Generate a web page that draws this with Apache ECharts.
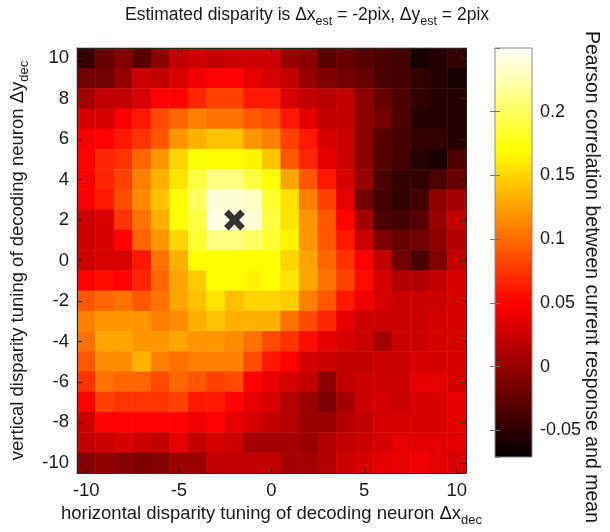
<!DOCTYPE html>
<html>
<head>
<meta charset="utf-8">
<script src="https://cdn.jsdelivr.net/npm/echarts@6/dist/echarts.min.js"></script>
<style>
  html, body { margin: 0; padding: 0; background: #fff; }
  #container { width: 610px; height: 532px; }
</style>
</head>
<body>
<div id="container"></div>
<script>
// axes (decoding neuron tuning, pix)
var xVals = [-10, -9, -8, -7, -6, -5, -4, -3, -2, -1, 0, 1, 2, 3, 4, 5, 6, 7, 8, 9, 10];
var yVals = [-10, -9, -8, -7, -6, -5, -4, -3, -2, -1, 0, 1, 2, 3, 4, 5, 6, 7, 8, 9, 10];

// estimated disparity (the cross)
var estX = -2;
var estY = 2;

// colour range of the colorbar
var cbarMin = -0.071;
var cbarMax = 0.25;
var cbarTicks = [-0.05, 0, 0.05, 0.1, 0.15, 0.2];

// matlab "hot"
var hotColors = ['#000000', '#550000', '#aa0000', '#ff0000', '#ff5500', '#ffaa00', '#ffff00', '#ffff80', '#ffffff'];

// pearson correlation, one row per dy, top row is dy = 10, columns dx = -10..10
var corrRows = [
    [-0.045, -0.023, -0.011, -0.030, -0.005, 0.020, 0.025, 0.020, 0.025, 0.025, 0.025, 0.001, -0.005, -0.030, -0.023, -0.030, -0.035, -0.040, -0.060, -0.053, -0.047], // 10
    [-0.017, -0.017, 0.000, 0.025, 0.020, 0.030, 0.043, 0.049, 0.049, 0.037, 0.030, 0.020, 0.000, -0.011, -0.017, -0.023, -0.035, -0.040, -0.047, -0.053, -0.060], // 9
    [0.007, 0.020, 0.020, 0.030, 0.049, 0.050, 0.067, 0.080, 0.080, 0.060, 0.060, 0.030, 0.020, 0.015, 0.020, -0.005, -0.023, -0.035, -0.047, -0.053, -0.053], // 8
    [0.030, 0.030, 0.045, 0.060, 0.085, 0.097, 0.110, 0.103, 0.103, 0.090, 0.085, 0.060, 0.037, 0.020, 0.020, -0.005, -0.017, -0.035, -0.053, -0.053, -0.053], // 7
    [0.045, 0.050, 0.060, 0.073, 0.090, 0.120, 0.133, 0.140, 0.140, 0.120, 0.110, 0.080, 0.060, 0.030, 0.025, -0.005, -0.030, -0.040, -0.047, -0.047, -0.053], // 6
    [0.049, 0.067, 0.073, 0.097, 0.120, 0.150, 0.170, 0.170, 0.170, 0.165, 0.140, 0.090, 0.067, 0.037, 0.025, -0.005, -0.030, -0.040, -0.053, -0.060, -0.035], // 5
    [0.049, 0.067, 0.080, 0.110, 0.133, 0.157, 0.190, 0.210, 0.210, 0.190, 0.170, 0.127, 0.090, 0.060, 0.030, 0.000, -0.035, -0.047, -0.047, -0.035, -0.023], // 4
    [0.045, 0.060, 0.085, 0.115, 0.140, 0.170, 0.200, 0.237, 0.237, 0.230, 0.185, 0.157, 0.110, 0.080, 0.037, -0.017, -0.040, -0.047, -0.040, -0.005, 0.007], // 3
    [0.025, 0.030, 0.073, 0.103, 0.133, 0.170, 0.190, 0.241, 0.245, 0.237, 0.190, 0.157, 0.120, 0.090, 0.050, 0.007, -0.035, -0.040, -0.030, 0.000, 0.020], // 2
    [0.025, 0.030, 0.050, 0.097, 0.120, 0.150, 0.185, 0.210, 0.210, 0.200, 0.185, 0.165, 0.120, 0.090, 0.060, 0.025, -0.011, -0.023, -0.017, -0.005, 0.013], // 1
    [0.025, 0.030, 0.030, 0.060, 0.103, 0.133, 0.170, 0.170, 0.170, 0.170, 0.170, 0.150, 0.127, 0.097, 0.073, 0.049, 0.020, -0.017, -0.035, -0.011, 0.020], // 0
    [0.049, 0.055, 0.049, 0.067, 0.097, 0.127, 0.145, 0.170, 0.170, 0.165, 0.170, 0.157, 0.127, 0.103, 0.080, 0.055, 0.030, 0.013, 0.013, 0.020, 0.030], // -1
    [0.090, 0.097, 0.103, 0.090, 0.103, 0.127, 0.140, 0.157, 0.140, 0.150, 0.150, 0.145, 0.110, 0.090, 0.060, 0.043, 0.030, 0.025, 0.025, 0.025, 0.030], // -2
    [0.110, 0.120, 0.120, 0.120, 0.110, 0.115, 0.133, 0.140, 0.133, 0.133, 0.133, 0.103, 0.085, 0.067, 0.037, 0.025, 0.025, 0.025, 0.025, 0.030, 0.030], // -3
    [0.103, 0.127, 0.127, 0.120, 0.120, 0.127, 0.120, 0.120, 0.115, 0.103, 0.085, 0.073, 0.055, 0.037, 0.030, 0.025, 0.007, 0.025, 0.025, 0.030, 0.030], // -4
    [0.090, 0.115, 0.115, 0.133, 0.110, 0.103, 0.110, 0.110, 0.110, 0.085, 0.060, 0.049, 0.030, 0.025, 0.020, 0.020, 0.025, 0.025, 0.030, 0.030, 0.030], // -5
    [0.073, 0.103, 0.097, 0.097, 0.085, 0.097, 0.090, 0.080, 0.085, 0.050, 0.037, 0.030, 0.020, -0.005, 0.020, 0.025, 0.025, 0.025, 0.037, 0.037, 0.030], // -6
    [0.050, 0.080, 0.073, 0.073, 0.073, 0.080, 0.060, 0.060, 0.050, 0.037, 0.030, 0.013, 0.001, -0.011, 0.007, 0.025, 0.030, 0.025, 0.030, 0.030, 0.037], // -7
    [0.025, 0.050, 0.050, 0.050, 0.050, 0.050, 0.043, 0.049, 0.037, 0.030, 0.020, 0.013, 0.001, 0.001, 0.013, 0.020, 0.030, 0.030, 0.030, 0.030, 0.037], // -8
    [0.020, 0.025, 0.030, 0.025, 0.020, 0.037, 0.020, 0.030, 0.025, 0.007, 0.007, 0.007, 0.001, 0.013, 0.020, 0.025, 0.030, 0.037, 0.037, 0.037, 0.037], // -9
    [-0.008, -0.003, -0.008, -0.011, -0.008, 0.001, 0.001, 0.020, 0.020, 0.020, 0.020, 0.007, 0.007, 0.013, 0.025, 0.030, 0.037, 0.037, 0.043, 0.037, 0.030]  // -10
];

var dom = document.getElementById('container');
var myChart = echarts.init(dom, null, { renderer: 'canvas' });
var option;

var FONT = 'Liberation Sans, Arial, sans-serif';
var TXT = '#1a1a1a';
var FS = 18.5;   // tick labels / axis names
var SUB = 13;    // subscripts

// heatmap cells [xIndex, yIndex, value]
var cells = [];
for (var r = 0; r < corrRows.length; r++) {
    var yi = yVals.length - 1 - r;
    for (var c = 0; c < corrRows[r].length; c++) {
        cells.push([c, yi, corrRows[r][c]]);
    }
}

// colorbar gradient built from the hot colours
var stops = hotColors.map(function (col, i) {
    return { offset: i / (hotColors.length - 1), color: col };
});

function xShown(idx, val) { return Number(val) % 5 === 0; }
function yShown(idx, val) { return Number(val) % 2 === 0; }

var subRich = { sub: { fontSize: SUB, fontFamily: FONT, color: TXT, padding: [13, 0, 0, 0] } };

function catAxis(data, pos, showFn, gi, showLabels) {
    return {
        type: 'category',
        gridIndex: gi,
        position: pos,
        data: data.map(String),
        z: 10,
        axisLine: { show: true, onZero: false, lineStyle: { color: '#262626', width: 1 } },
        axisTick: { show: true, inside: true, alignWithLabel: true, interval: showFn, length: 5, lineStyle: { color: '#262626' } },
        axisLabel: { show: showLabels, interval: showFn, color: TXT, fontSize: FS, fontFamily: FONT, margin: 8 },
        splitLine: { show: false }
    };
}

var xMain = catAxis(xVals, 'bottom', xShown, 0, true);
xMain.name = 'horizontal disparity tuning of decoding neuron \u0394x{sub|dec}';
xMain.nameLocation = 'middle';
xMain.nameGap = 24;
xMain.nameTextStyle = { color: TXT, fontSize: FS, fontFamily: FONT, verticalAlign: 'top', rich: subRich };

var yMain = catAxis(yVals, 'left', yShown, 0, true);
yMain.name = 'vertical disparity tuning of decoding neuron \u0394y{sub|dec}';
yMain.nameLocation = 'middle';
yMain.nameRotate = 90;
yMain.nameGap = 44;
yMain.nameTextStyle = { color: TXT, fontSize: FS, fontFamily: FONT, rich: subRich };

function cbarAxis(pos, showLabels) {
    return {
        type: 'value',
        gridIndex: 1,
        position: pos,
        min: cbarMin,
        max: cbarMax,
        z: 10,
        axisLine: { show: false },
        axisTick: { show: true, inside: true, length: 5, lineStyle: { color: '#777' } },
        axisLabel: {
            show: showLabels, color: TXT, fontSize: 18, fontFamily: FONT, margin: 8,
            showMinLabel: false, showMaxLabel: false,
            formatter: function (v) {
                var hit = cbarTicks.filter(function (t) { return Math.abs(t - v) < 1e-9; });
                return hit.length ? String(hit[0]) : '';
            }
        },
        splitLine: { show: false }
    };
}

option = {
    animation: false,
    backgroundColor: '#ffffff',
    title: {
        text: 'Estimated disparity is \u0394x{sub|est} = -2pix, \u0394y{sub|est} = 2pix',
        left: 302,
        top: -2,
        textAlign: 'center',
        textStyle: {
            color: TXT, fontSize: 17.5, fontWeight: 'normal', fontFamily: FONT,
            rich: { sub: { fontSize: 12.5, fontFamily: FONT, color: TXT, padding: [12, 0, 0, 0] } }
        }
    },
    grid: [
        { left: 77, top: 48, width: 389, height: 425, containLabel: false, outerBoundsMode: 'none' },
        {
            left: 495, top: 48, width: 37, height: 409, containLabel: false, outerBoundsMode: 'none',
            show: true, borderColor: '#8a8a8a', borderWidth: 1,
            backgroundColor: new echarts.graphic.LinearGradient(0, 1, 0, 0, stops)
        }
    ],
    xAxis: [
        xMain,
        catAxis(xVals, 'top', xShown, 0, false),
        { type: 'value', gridIndex: 1, show: false, min: 0, max: 1 }
    ],
    yAxis: [
        yMain,
        catAxis(yVals, 'right', yShown, 0, false),
        cbarAxis('right', true),
        cbarAxis('left', false)
    ],
    visualMap: {
        show: false,
        type: 'continuous',
        min: cbarMin,
        max: cbarMax,
        dimension: 2,
        seriesIndex: 0,
        inRange: { color: hotColors }
    },
    graphic: [
        {
            type: 'text',
            x: 591,
            y: 277,
            rotation: -Math.PI / 2,
            style: {
                text: 'Pearson correlation between current response and mean',
                fill: TXT,
                font: '19.5px Liberation Sans, Arial, sans-serif',
                textAlign: 'center',
                textVerticalAlign: 'middle'
            }
        }
    ],
    series: [
        {
            type: 'heatmap',
            xAxisIndex: 0,
            yAxisIndex: 0,
            data: cells,
            progressive: 0,
            emphasis: { disabled: true }
        },
        {
            type: 'scatter',
            xAxisIndex: 0,
            yAxisIndex: 0,
            z: 5,
            symbol: 'path://M0.36,0 L0.64,0 L0.64,0.36 L1,0.36 L1,0.64 L0.64,0.64 L0.64,1 L0.36,1 L0.36,0.64 L0,0.64 L0,0.36 L0.36,0.36 Z',
            symbolRotate: 45,
            symbolSize: 23,
            itemStyle: { color: '#000' },
            data: [[xVals.indexOf(estX), yVals.indexOf(estY)]]
        }
    ]
};

if (option && typeof option === 'object') {
    myChart.setOption(option);
}

window.addEventListener('resize', myChart.resize);
</script>
</body>
</html>
